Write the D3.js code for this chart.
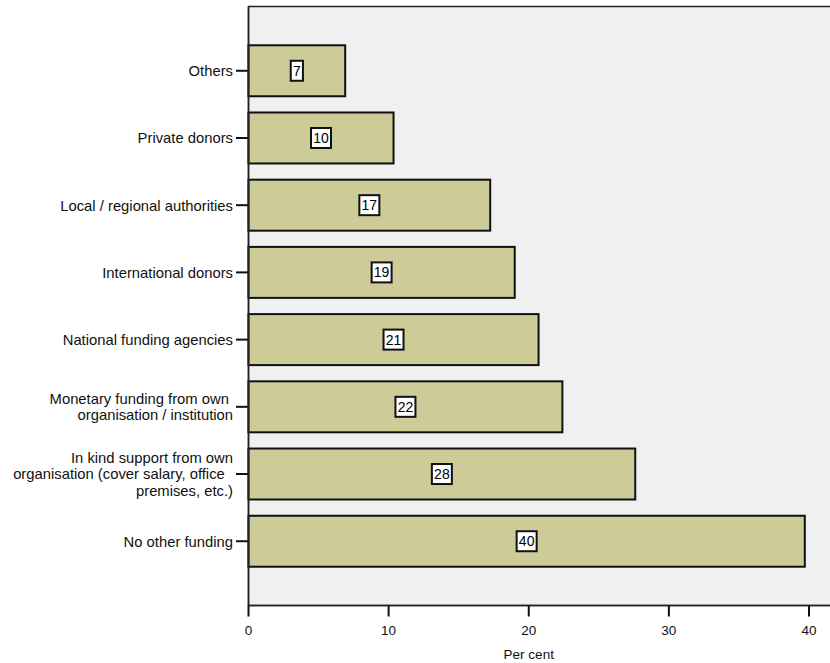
<!DOCTYPE html>
<html>
<head>
<meta charset="utf-8">
<script src="https://cdn.jsdelivr.net/npm/d3@7"></script>
<style>
  html, body { margin: 0; padding: 0; background: #ffffff; }
  svg { display: block; font-family: "Liberation Sans", Arial, sans-serif; }
</style>
</head>
<body>
<svg id="chart" width="830" height="663"></svg>
<script>
// ---- data ----
const categories = [
  "Others",
  "Private donors",
  "Local / regional authorities",
  "International donors",
  "National funding agencies",
  "Monetary funding from own organisation / institution",
  "In kind support from own organisation (cover salary, office premises, etc.)",
  "No other funding"
];
const categoryLines = [
  ["Others"],
  ["Private donors"],
  ["Local / regional authorities"],
  ["International donors"],
  ["National funding agencies"],
  ["Monetary funding from own ", "organisation / institution"],
  ["In kind support from own", "organisation (cover salary, office  ", "premises, etc.)"],
  ["No other funding"]
];
const values = [6.9, 10.35, 17.25, 19.0, 20.7, 22.4, 27.6, 39.7];
const valueLabels = ["7", "10", "17", "19", "21", "22", "28", "40"];
const xTicks = [0, 10, 20, 30, 40];
const xTitle = "Per cent";

// ---- layout ----
const svg = d3.select("#chart");
const plotLeft = 248.5, plotTop = 6.5, plotBottom = 605.5, plotRight = 840;

const x = d3.scaleLinear().domain([0, 40]).range([plotLeft, 809]);
const y = d3.scaleBand().domain(categories).range([plotTop, plotBottom])
  .paddingInner(0.2415).paddingOuter(0.577);

// plot background
svg.append("rect")
  .attr("x", plotLeft).attr("y", plotTop)
  .attr("width", plotRight - plotLeft).attr("height", plotBottom - plotTop)
  .attr("fill", "#f0f0f0").attr("stroke", "#222").attr("stroke-width", 1.5);

// bars
svg.append("g").selectAll("rect").data(categories).join("rect")
  .attr("x", x(0))
  .attr("y", d => y(d))
  .attr("width", (d, i) => x(values[i]) - x(0))
  .attr("height", y.bandwidth())
  .attr("fill", "#cdcb98")
  .attr("stroke", "#111")
  .attr("stroke-width", 2);

// value labels with boxes
const lab = svg.append("g").selectAll("g").data(categories).join("g")
  .attr("transform", (d, i) => `translate(${(x(0) + x(values[i])) / 2},${y(d) + y.bandwidth() / 2})`);
lab.each(function(d, i) {
  const g = d3.select(this);
  const t = g.append("text")
    .attr("text-anchor", "middle")
    .attr("dy", "0.36em")
    .attr("font-size", 14)
    .attr("fill", "#000")
    .text(valueLabels[i]);
  const w = t.node().getComputedTextLength();
  g.insert("rect", "text")
    .attr("x", -w / 2 - 2.2).attr("y", -10)
    .attr("width", w + 4.4).attr("height", 20)
    .attr("fill", "#fff").attr("stroke", "#111").attr("stroke-width", 2);
});

// y axis (ticks + labels)
const yAxis = svg.append("g");
yAxis.append("line")
  .attr("x1", plotLeft).attr("x2", plotLeft)
  .attr("y1", plotTop).attr("y2", plotBottom)
  .attr("stroke", "#222").attr("stroke-width", 1.5);
const yt = yAxis.selectAll("g").data(categories).join("g")
  .attr("transform", d => `translate(0,${y(d) + y.bandwidth() / 2})`);
yt.append("line")
  .attr("x1", plotLeft - 12.5).attr("x2", plotLeft)
  .attr("stroke", "#111").attr("stroke-width", 2);
yt.each(function(d, i) {
  const lines = categoryLines[i];
  const lh = 16.7;
  const t = d3.select(this).append("text")
    .attr("text-anchor", "end")
    .attr("font-size", 14.8)
    .attr("fill", "#111")
    .attr("xml:space", "preserve")
    .style("white-space", "pre");
  lines.forEach((ln, k) => {
    t.append("tspan")
      .attr("x", plotLeft - 15.5)
      .attr("y", (k - (lines.length - 1) / 2) * lh)
      .attr("dy", "0.36em")
      .text(ln);
  });
});

// x axis
const xAxis = svg.append("g");
xAxis.append("line")
  .attr("x1", plotLeft).attr("x2", plotRight)
  .attr("y1", plotBottom).attr("y2", plotBottom)
  .attr("stroke", "#222").attr("stroke-width", 1.5);
const xt = xAxis.selectAll("g").data(xTicks).join("g")
  .attr("transform", d => `translate(${x(d)},${plotBottom})`);
xt.append("line").attr("y1", 0).attr("y2", 11)
  .attr("stroke", "#111").attr("stroke-width", 2);
xt.append("text")
  .attr("y", 25).attr("dy", "0.36em")
  .attr("text-anchor", "middle")
  .attr("font-size", 13.5)
  .attr("fill", "#111")
  .text(d => d);

svg.append("text")
  .attr("x", x(20)).attr("y", 654).attr("dy", "0.36em")
  .attr("text-anchor", "middle")
  .attr("font-size", 13.5)
  .attr("fill", "#111")
  .text(xTitle);
</script>
</body>
</html>
